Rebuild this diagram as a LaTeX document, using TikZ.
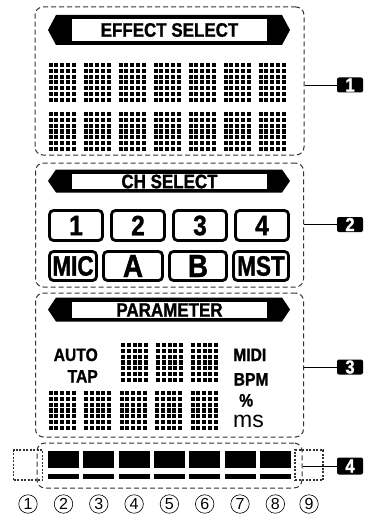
\documentclass[tikz,border=0pt]{standalone}
\usepackage{fontspec}
\setmainfont{Liberation Sans}
\newfontfamily\cf[FakeStretch=0.87,FakeBold=1.2]{Liberation Sans}
\newfontfamily\cfn[FakeStretch=0.8,FakeBold=1.2]{Liberation Sans}
\begin{document}
\begin{tikzpicture}[x=1pt,y=-1pt,
  panel/.style={draw=black!80,line width=1pt,dash pattern=on 5pt off 3pt,rounded corners=8pt,inner sep=0pt},
  dotbox/.style={draw=black!80,line width=1.8pt,dash pattern=on 2pt off 1.5pt,inner sep=0pt},
  ttl/.style={inner sep=0pt,font=\cf\bfseries\fontsize{19.5}{19.5}\selectfont},
  btn/.style={draw,line width=2.8pt,rounded corners=4pt,inner sep=0pt,minimum height=29pt},
  dig/.style={font=\cf\bfseries\fontsize{28}{28}\selectfont},
  lbl/.style={fill=black,rounded corners=2pt,inner sep=0pt,minimum width=26pt,minimum height=15pt,text=white,font=\cf\bfseries\fontsize{19}{19}\selectfont},
  ptxt/.style={inner sep=0pt,font=\cf\bfseries\fontsize{18}{18}\selectfont},
  circ/.style={circle,draw,line width=0.6pt,minimum size=18.5pt,inner sep=0pt,font=\fontsize{16}{16}\selectfont},
  dotc/.pic={\foreach \i in {0,...,4}{\foreach \j in {0,...,6}{\fill (\i*5.75,\j*5.8) rectangle ++(4.1,4.1);}}}
]
\useasboundingbox (0,0) rectangle (366,516);

% ---------- panel 1 ----------
\node[panel,minimum width=269pt,minimum height=148pt] (p1) at (169.5,81) {};
\fill (48,30) -- (56,15) -- (282,15) -- (290,30) -- (282,45) -- (56,45) -- cycle;
\fill[white] (72,19) rectangle (267,41);
\node[ttl] (t1) at (169.5,30) {EFFECT SELECT};
\foreach \k in {0,...,6}{
  \pic at (48.5+35*\k,63) {dotc};
  \pic at (48.5+35*\k,112) {dotc};
}
\node[lbl] (l1) at (350,85) {1};
\draw[line width=0.8pt] (p1.east |- l1.west) -- (l1.west);

% ---------- panel 2 ----------
\node[panel,minimum width=268pt,minimum height=124pt] (p2) at (169.5,225) {};
\fill (48,181) -- (56,169.5) -- (282,169.5) -- (290,181) -- (282,192.5) -- (56,192.5) -- cycle;
\fill[white] (72,173.5) rectangle (267,189);
\node[ttl] (t2) at (169.5,181.5) {CH SELECT};
\node[btn,minimum width=53pt,minimum height=30pt] (b1) at (76,225.5) {};
\node[btn,minimum width=53pt,minimum height=30pt] (b2) at (138,225.5) {};
\node[btn,minimum width=53pt,minimum height=30pt] (b3) at (200,225.5) {};
\node[btn,minimum width=53pt,minimum height=30pt] (b4) at (262,225.5) {};
\node[dig] (d1) at (b1) {1};
\node[dig] (d2) at (b2) {2};
\node[dig] (d3) at (b3) {3};
\node[dig] (d4) at (b4) {4};
\node[btn,minimum width=47pt] (b5) at (73,266) {};
\node[btn,minimum width=59pt] (b6) at (133,266) {};
\node[btn,minimum width=57pt] (b7) at (198,266) {};
\node[btn,minimum width=55pt] (b8) at (261,266) {};
\node[font=\cfn\bfseries\fontsize{28}{28}\selectfont,inner sep=0pt] (m1) at (b5) {MIC};
\node[font=\cf\bfseries\fontsize{32}{32}\selectfont,inner sep=0pt] (m2) at (b6) {A};
\node[font=\cf\bfseries\fontsize{32}{32}\selectfont,inner sep=0pt] (m3) at (b7) {B};
\node[font=\cfn\bfseries\fontsize{28}{28}\selectfont,inner sep=0pt] (m4) at (b8) {MST};
\node[lbl] (l2) at (350,224.5) {2};
\draw[line width=0.8pt] (p2.east |- l2.west) -- (l2.west);

% ---------- panel 3 ----------
\node[panel,minimum width=268pt,minimum height=144pt] (p3) at (169.5,365) {};
\fill (48,309.5) -- (56,297.5) -- (282,297.5) -- (290,309.5) -- (282,321.5) -- (56,321.5) -- cycle;
\fill[white] (72,301.5) rectangle (267,318);
\node[ttl] (t3) at (169.5,310) {PARAMETER};
\foreach \k in {0,1,2}{ \pic at (121+35*\k,343) {dotc}; }
\foreach \k in {0,...,4}{ \pic at (48.5+35.5*\k,391) {dotc}; }
\node[ptxt,anchor=base east] (a1) at (98,361) {AUTO};
\node[ptxt,anchor=base east] (a2) at (98,382.5) {TAP};
\node[ptxt,anchor=base west] (a3) at (233,361) {MIDI};
\node[ptxt,anchor=base west] (a4) at (233.5,385.5) {BPM};
\node[ptxt,anchor=base west] (a5) at (239,406.5) {\%};
\node[inner sep=0pt,anchor=base west,font=\fontsize{23}{23}\selectfont] (a6) at (233,427.5) {ms};
\node[lbl] (l3) at (350,367) {3};
\draw[line width=0.8pt] (p3.east |- l3.west) -- (l3.west);

% ---------- panel 4 ----------
\node[dotbox,minimum width=29pt,minimum height=30pt] (q1) at (28,465) {};
\node[dotbox,minimum width=28pt,minimum height=30pt] (q2) at (309,465) {};
\node[panel,minimum width=265pt,minimum height=45pt] (p4) at (169.5,465.5) {};
\foreach \k in {0,...,6}{
  \fill (48+35.3*\k,451) rectangle ++(31,17);
  \fill (48+35.3*\k,474) rectangle ++(31,5);
}
\node[lbl,minimum height=17pt] (l4) at (350,466) {4};
\draw[line width=0.8pt] (p4.east |- l4.west) -- (l4.west);

% ---------- circled numbers ----------
\node[circ] (c1) at (28,504) {1};
\foreach \n/\k in {2/0,3/1,4/2,5/3,6/4,7/5,8/6}{
  \node[circ] (c\n) at (63.5+35.3*\k,504) {\n};
}
\node[circ] (c9) at (309,504) {9};
\end{tikzpicture}
\end{document}
